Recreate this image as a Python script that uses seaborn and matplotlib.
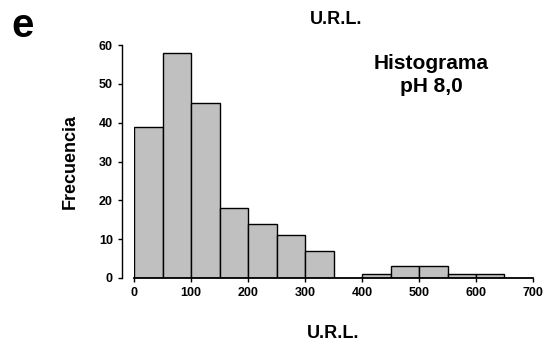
import matplotlib
matplotlib.use("Agg")
import matplotlib.pyplot as plt
import seaborn as sns
import numpy as np
import pandas as pd

bin_edges = [0, 50, 100, 150, 200, 250, 300, 350, 400, 450, 500, 550, 600, 650]
counts = [39, 58, 45, 18, 14, 11, 7, 0, 1, 3, 3, 1, 1]
x_ticks = [0, 100, 200, 300, 400, 500, 600, 700]
y_ticks = [0, 10, 20, 30, 40, 50, 60]

centers = [(a + b) / 2 for a, b in zip(bin_edges[:-1], bin_edges[1:])]
df = pd.DataFrame({"url": centers, "n": counts})

sns.set_style("white")
plt.rcParams["font.family"] = ["Liberation Sans", "DejaVu Sans"]
plt.rcParams["font.weight"] = "bold"
plt.rcParams["text.color"] = "black"
plt.rcParams["axes.labelcolor"] = "black"
plt.rcParams["xtick.color"] = "black"
plt.rcParams["ytick.color"] = "black"

fig = plt.figure(figsize=(5.54, 3.43), dpi=100)
ax = fig.add_axes([134 / 554, 1 - 278 / 343, (533 - 134) / 554, (278 - 45) / 343])

sns.histplot(data=df, x="url", weights="n", bins=bin_edges, ax=ax,
             color="#C0C0C0", edgecolor="black", linewidth=1.0, alpha=1)

ax.set_xlim(0, 700)
ax.set_ylim(0, 60)
ax.set_xticks(x_ticks)
ax.set_yticks(y_ticks)
ax.tick_params(axis="both", labelsize=9, length=3, width=1, colors="black",
               direction="out", bottom=True, left=True, pad=3.5)
for lab in ax.get_xticklabels() + ax.get_yticklabels():
    lab.set_fontweight("bold")

for s in ["top", "right"]:
    ax.spines[s].set_visible(False)
ax.spines["left"].set_position(("outward", 8.64))
ax.spines["left"].set_color("black")
ax.spines["bottom"].set_color("black")
ax.spines["left"].set_linewidth(1)
ax.spines["bottom"].set_linewidth(1.3)

ax.set_xlabel("")
ax.set_ylabel("")

fig.text(333 / 554, 1 - 333 / 343, "U.R.L.", ha="center", va="center",
         fontsize=13, fontweight="bold")
fig.text(70 / 554, 1 - 161 / 343, "Frecuencia", ha="center", va="center",
         rotation=90, fontsize=13, fontweight="bold")
fig.text(336 / 554, 1 - 20 / 343, "U.R.L.", ha="center", va="center",
         fontsize=13, fontweight="bold")
fig.text(23 / 554, 1 - 26 / 343, "e", ha="center", va="center",
         fontsize=29, fontweight="bold")
fig.text(431 / 554, 1 - 75 / 343, "Histograma\npH 8,0", ha="center", va="center",
         fontsize=15, fontweight="bold", linespacing=1.25)

fig.savefig("out.png", dpi=100)
